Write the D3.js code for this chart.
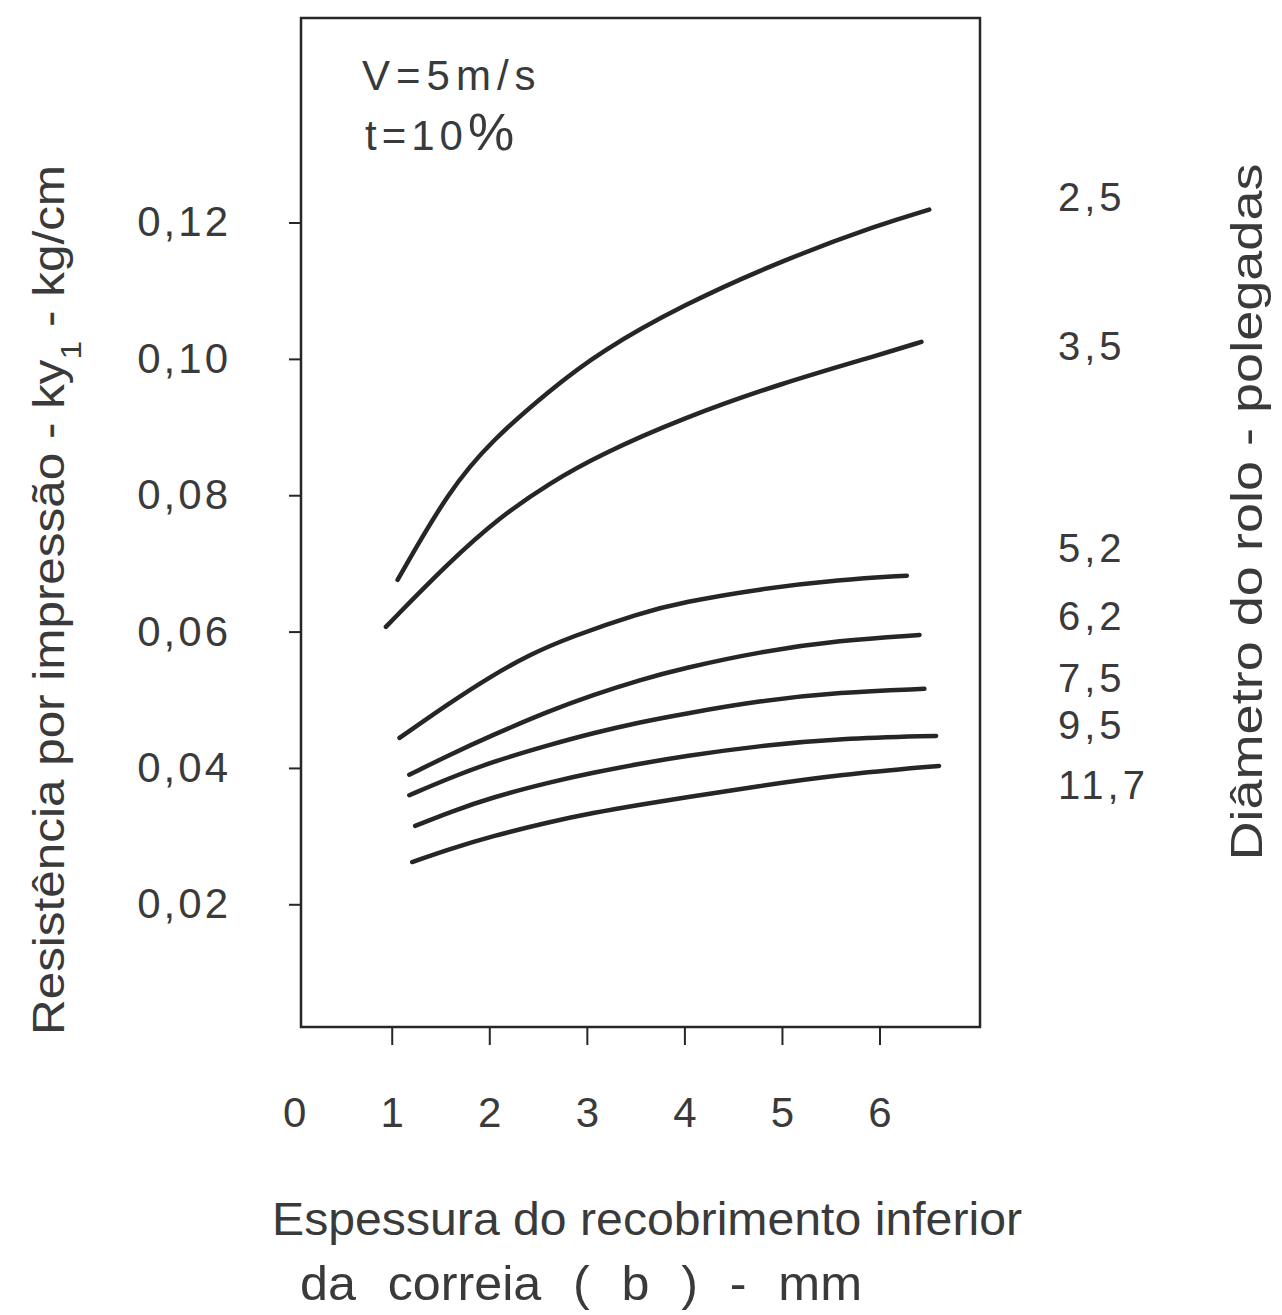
<!DOCTYPE html>
<html>
<head>
<meta charset="utf-8">
<script src="https://cdn.jsdelivr.net/npm/d3@7/dist/d3.min.js"></script>
<style>
  body { margin: 0; background: #fff; }
  svg text { font-family: "Liberation Sans", Arial, sans-serif; fill: #3a3a3a; }
</style>
</head>
<body>
<div class="chart"></div>
<script>
// values: x = espessura (mm), y = ky1 (kg/cm)
var xTicks = [0, 1, 2, 3, 4, 5, 6];
var yTicks = [0.02, 0.04, 0.06, 0.08, 0.10, 0.12];
var diameters = ["2,5", "3,5", "5,2", "6,2", "7,5", "9,5", "11,7"];
// where each diameter label sits, in ky1 units
var labelAt = [0.1238, 0.1020, 0.0723, 0.0624, 0.0532, 0.0463, 0.0375];

var d25 = [[1.06,0.0676],[1.59,0.0808],[2.03,0.0881],[2.62,0.0954],[3.13,0.1010],[3.98,0.1079],[5.01,0.1145],[6.00,0.1197],[6.51,0.1219]];
var d35 = [[0.94,0.0607],[1.59,0.0702],[2.10,0.0767],[2.62,0.0818],[3.13,0.0859],[3.98,0.0913],[5.01,0.0965],[6.00,0.1006],[6.43,0.1025]];
var d52 = [[1.08,0.0444],[1.59,0.0495],[2.00,0.0533],[2.41,0.0566],[2.83,0.0592],[3.54,0.0627],[3.98,0.0643],[4.79,0.0663],[5.59,0.0676],[6.28,0.0682]];
var d62 = [[1.18,0.0390],[1.59,0.0419],[2.03,0.0448],[2.62,0.0484],[3.06,0.0507],[3.54,0.0529],[3.98,0.0546],[4.79,0.0571],[5.59,0.0587],[6.41,0.0595]];
var d75 = [[1.18,0.0360],[1.59,0.0385],[2.03,0.0409],[2.62,0.0434],[3.06,0.0451],[3.54,0.0467],[3.98,0.0479],[4.79,0.0499],[5.59,0.0511],[6.46,0.0516]];
var d95 = [[1.24,0.0315],[1.59,0.0335],[2.03,0.0357],[2.62,0.0379],[3.06,0.0393],[3.54,0.0406],[3.98,0.0417],[4.79,0.0433],[5.59,0.0443],[6.58,0.0447]];
var d117 = [[1.21,0.0262],[1.59,0.0281],[2.03,0.0300],[2.62,0.0321],[3.06,0.0334],[3.54,0.0346],[3.98,0.0356],[4.79,0.0374],[5.59,0.0390],[6.61,0.0403]];

var series = [d25, d35, d52, d62, d75, d95, d117];

var W = 1282, H = 1315;
var box = {left: 301, right: 980, top: 18, bottom: 1027};

var svg = d3.select(".chart").append("svg")
    .attr("width", W)
    .attr("height", H);

var x = d3.scaleLinear().domain([0.07, 7.03]).range([box.left, box.right]);
var y = d3.scaleLinear().domain([0.002, 0.15]).range([box.bottom, box.top]);

var ink = "#262626";

// frame
svg.append("rect")
    .attr("x", box.left).attr("y", box.top)
    .attr("width", box.right - box.left)
    .attr("height", box.bottom - box.top)
    .attr("fill", "none")
    .attr("stroke", ink)
    .attr("stroke-width", 2.5);

// y axis
var yAxis = svg.append("g")
    .attr("transform", "translate(" + box.left + ",0)")
    .call(d3.axisLeft(y).tickValues(yTicks).tickSize(12).tickPadding(58)
      .tickFormat(function(d) { return d3.format(".2f")(d).replace(".", ","); }));
yAxis.select(".domain").remove();
yAxis.selectAll("line").attr("stroke", ink).attr("stroke-width", 2);
yAxis.selectAll("text").attr("font-size", 42).attr("fill", "#3a3a3a")
    .attr("font-family", null).attr("letter-spacing", 3);

// x axis
var xAxis = svg.append("g")
    .attr("transform", "translate(0," + box.bottom + ")")
    .call(d3.axisBottom(x).tickValues(xTicks).tickSize(18).tickPadding(52)
      .tickFormat(d3.format("d")));
xAxis.select(".domain").remove();
xAxis.selectAll("line").attr("stroke", ink).attr("stroke-width", 2)
    .attr("display", function(d) { return d === 0 ? "none" : null; });
xAxis.selectAll("text").attr("font-size", 42).attr("fill", "#3a3a3a")
    .attr("font-family", null);

// curves
var line = d3.line()
    .x(function(d) { return x(d[0]); })
    .y(function(d) { return y(d[1]); })
    .curve(d3.curveBasis);

svg.selectAll(".curve")
    .data(series)
  .enter().append("path")
    .attr("class", "curve")
    .attr("d", line)
    .attr("fill", "none")
    .attr("stroke", ink)
    .attr("stroke-width", 4.5)
    .attr("stroke-linecap", "round");

// diameter labels on the right
svg.selectAll(".dlab")
    .data(diameters)
  .enter().append("text")
    .attr("class", "dlab")
    .attr("x", box.right + 78)
    .attr("y", function(d, i) { return y(labelAt[i]); })
    .attr("dy", "0.36em")
    .attr("font-size", 40)
    .attr("letter-spacing", 4)
    .text(function(d) { return d; });

// conditions
svg.append("text")
    .attr("x", 362).attr("y", 90)
    .attr("font-size", 42)
    .attr("letter-spacing", 6)
    .text("V=5m/s");
var tt = svg.append("text")
    .attr("x", 365).attr("y", 150)
    .attr("font-size", 42)
    .attr("letter-spacing", 5);
tt.append("tspan").text("t=10");
tt.append("tspan").attr("font-size", 52).text("%");

// y title
var yt = svg.append("text")
    .attr("transform", "translate(64,600) rotate(-90)")
    .attr("text-anchor", "middle")
    .attr("font-size", 44)
    .attr("textLength", 870).attr("lengthAdjust", "spacingAndGlyphs");
yt.append("tspan").text("Resistência por impressão - ky");
yt.append("tspan").attr("baseline-shift", "sub").attr("font-size", 30).text("1");
yt.append("tspan").text(" - kg/cm");

// right title
svg.append("text")
    .attr("transform", "translate(1262,512) rotate(-90)")
    .attr("text-anchor", "middle")
    .attr("font-size", 44)
    .attr("textLength", 697).attr("lengthAdjust", "spacingAndGlyphs")
    .text("Diâmetro do rolo - polegadas");

// x title
svg.append("text")
    .attr("x", 647).attr("y", 1235)
    .attr("text-anchor", "middle")
    .attr("font-size", 47)
    .attr("textLength", 750).attr("lengthAdjust", "spacingAndGlyphs")
    .text("Espessura do recobrimento inferior");
svg.append("text")
    .attr("x", 300).attr("y", 1300)
    .attr("font-size", 48)
    .attr("word-spacing", 17)
    .attr("textLength", 562).attr("lengthAdjust", "spacingAndGlyphs")
    .text("da correia ( b ) - mm");
</script>
</body>
</html>
